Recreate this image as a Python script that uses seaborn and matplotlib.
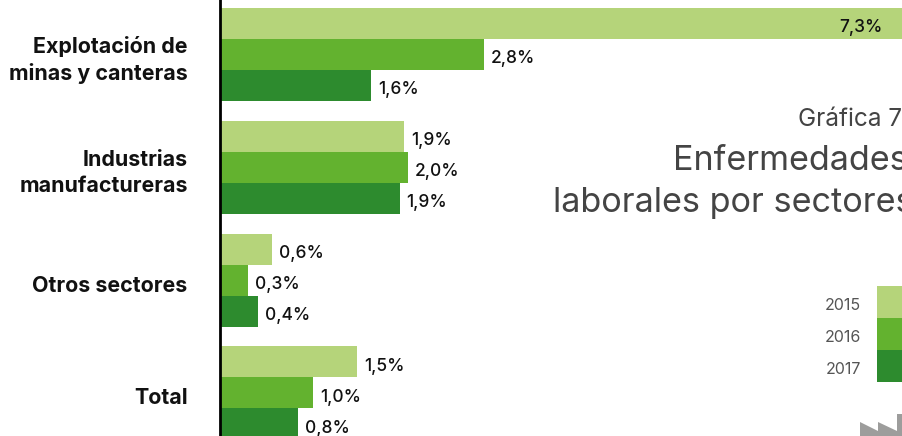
import pandas as pd
import matplotlib.pyplot as plt
from matplotlib.patches import Polygon
from matplotlib.transforms import IdentityTransform, ScaledTranslation
import seaborn as sns

sns.set_style("white")
plt.rcParams["font.family"] = ["Inter", "DejaVu Sans"]

categories = ["Explotación de\nminas y canteras", "Industrias\nmanufactureras", "Otros sectores", "Total"]
years = ["2015", "2016", "2017"]
v2015 = [7.3, 1.95, 0.54, 1.45]
v2016 = [2.8, 1.99, 0.29, 0.98]
v2017 = [1.6, 1.9, 0.39, 0.82]
l2015 = ["7,3%", "1,9%", "0,6%", "1,5%"]
l2016 = ["2,8%", "2,0%", "0,3%", "1,0%"]
l2017 = ["1,6%", "1,9%", "0,4%", "0,8%"]
colors = ["#B5D47A", "#63B22F", "#2D8B2E"]

df = pd.DataFrame({"cat": categories, "2015": v2015, "2016": v2016, "2017": v2017})
df = df.melt(id_vars="cat", var_name="year", value_name="val")

W, H = 903, 436
fig = plt.figure(figsize=(W / 100, H / 100), dpi=100)
ax = fig.add_axes([221 / W, 0, (W - 221) / W, 1])

sns.barplot(data=df, y="cat", x="val", hue="year", hue_order=years, palette=colors,
            orient="h", width=0.825, saturation=1, linewidth=0, ax=ax)

ax.set_xlim(0, (W - 221) / 94)
ax.set_ylim(3.382, -0.483)
ax.set_xlabel("")
ax.set_ylabel("")
ax.set_xticks([])

# spine first: set_position resets the ticks
sns.despine(ax=ax, top=True, right=True, bottom=True)
ax.spines["left"].set_color("black")
ax.spines["left"].set_linewidth(2)
ax.spines["left"].set_position(("outward", 1))

ax.set_yticks(range(len(categories)), categories)
ax.tick_params(axis="y", length=0, pad=23)

# tick labels sit a little under the group centre, two-line ones less so
for t in ax.get_yticklabels():
    shift = 0.6 if "\n" in t.get_text() else 2.5
    t.set_transform(t.get_transform() + ScaledTranslation(0, -shift / 72, fig.dpi_scale_trans))
    t.set_fontsize(15.4)
    t.set_fontweight("bold")
    t.set_color("#111111")
    t.set_ha("right")
    t.set_linespacing(1.35)

for c, labs in zip(ax.containers, [l2015, l2016, l2017]):
    ax.bar_label(c, labels=labs, padding=5, fontsize=12.5, fontweight="medium", color="#111111")
for t in ax.texts:
    t.xyann = (t.xyann[0], -3)
# the 7,3% label sits inside the clipped bar
first = ax.texts[0]
first.set_ha("right")
first.xyann = (-18, -3)
first.set_annotation_clip(False)

sns.move_legend(ax, "upper right", bbox_to_anchor=(W + 17, H - 286), bbox_transform=IdentityTransform(),
                title=None, frameon=False, markerfirst=False, fontsize=11.5, labelcolor="#555555",
                handleheight=2.7, handlelength=2.7, labelspacing=0, handletextpad=1.0,
                borderpad=0, borderaxespad=0)
for t in ax.get_legend().get_texts():
    t.set_y(-3)

fig.text(798 / W, 1 - 120 / H, "Gráfica 7", fontsize=17.5, color="#444444", va="center")
fig.text(673 / W, 1 - 161 / H, "Enfermedades", fontsize=24.6, color="#444444", va="center")
fig.text(553 / W, 1 - 203 / H, "laborales por sectores", fontsize=24.6, color="#444444", va="center")

# factory icon, bottom right
icon = [(860, 422), (878, 431), (878, 422), (897, 431), (897, 414), (903, 414), (903, 436), (860, 436)]
fig.add_artist(Polygon([(x, H - y) for x, y in icon], closed=True, color="#9D9D9C",
                       transform=IdentityTransform(), lw=0))

fig.savefig("out.png", dpi=100)
